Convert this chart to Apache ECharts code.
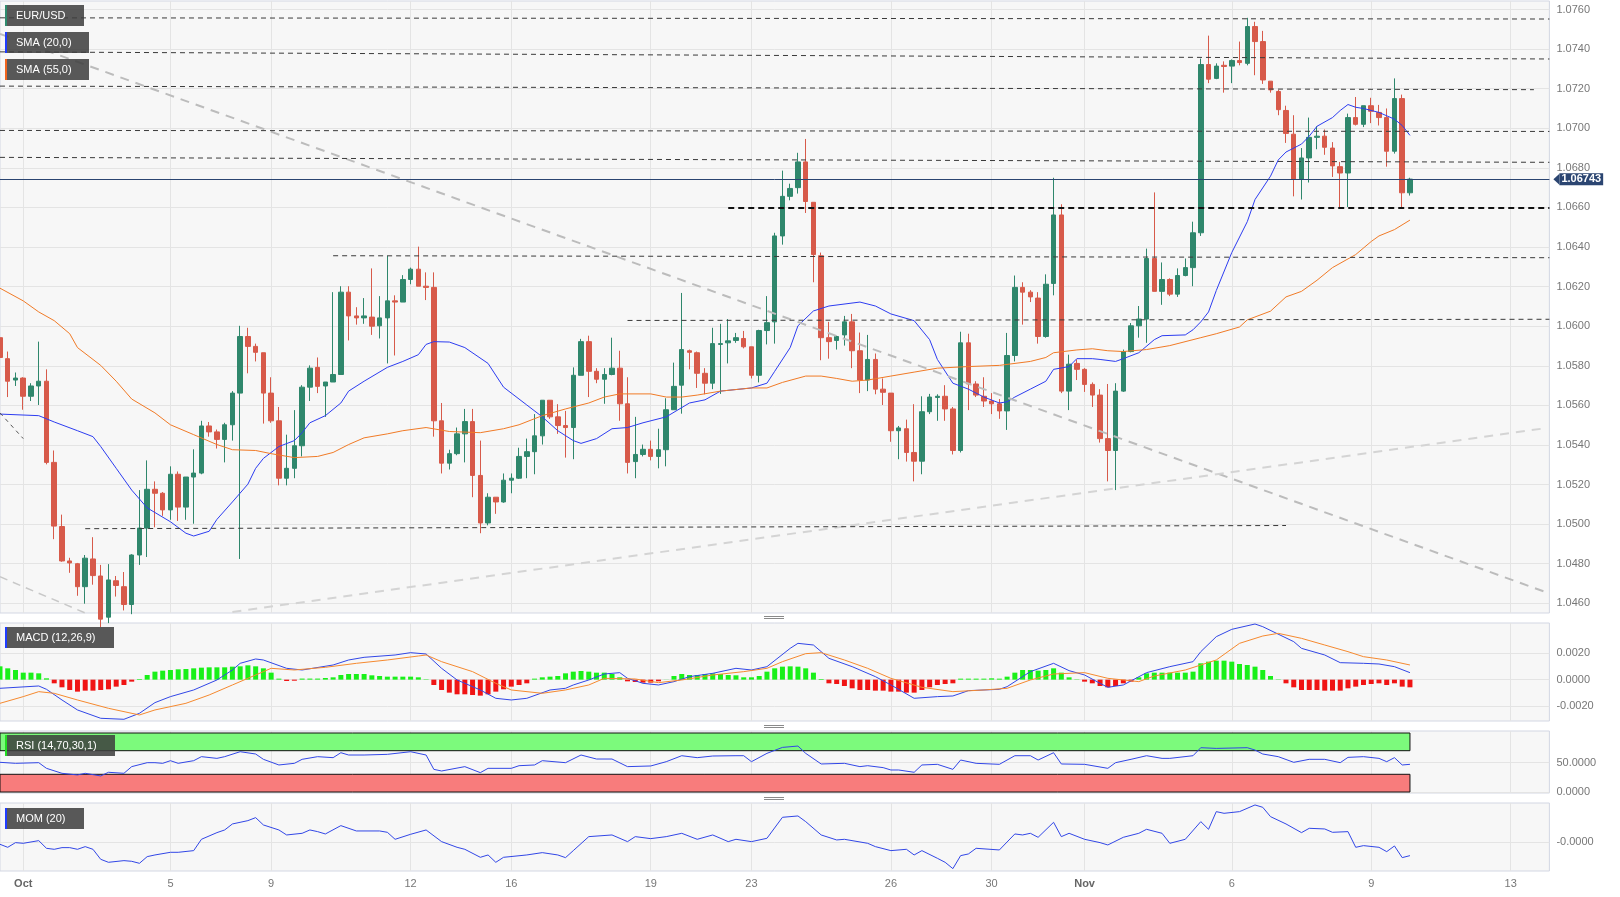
<!DOCTYPE html>
<html><head><meta charset="utf-8">
<script src="https://cdn.jsdelivr.net/npm/echarts@6.0.0/dist/echarts.min.js"></script>
<style>html,body{margin:0;padding:0;background:#fff}#c{width:1620px;height:897px}</style>
</head><body><div id="c"></div>
<script>
// ---------- categories (4h candles, weekends skipped) ----------
const H6 = [0, 4, 8, 12, 16, 20];
const sessionDays = [
  ['2023-09-29', [12, 16, 20]], ['2023-10-01', [20]],
  ['2023-10-02', H6], ['2023-10-03', H6], ['2023-10-04', H6], ['2023-10-05', H6], ['2023-10-06', H6], ['2023-10-08', [20]],
  ['2023-10-09', H6], ['2023-10-10', H6], ['2023-10-11', H6], ['2023-10-12', H6], ['2023-10-13', H6], ['2023-10-15', [20]],
  ['2023-10-16', H6], ['2023-10-17', H6], ['2023-10-18', H6], ['2023-10-19', H6], ['2023-10-20', H6], ['2023-10-22', [20]],
  ['2023-10-23', H6], ['2023-10-24', H6], ['2023-10-25', H6], ['2023-10-26', H6], ['2023-10-27', H6], ['2023-10-29', [20]],
  ['2023-10-30', H6], ['2023-10-31', H6], ['2023-11-01', H6], ['2023-11-02', H6], ['2023-11-03', H6], ['2023-11-05', [20]],
  ['2023-11-06', H6], ['2023-11-07', H6], ['2023-11-08', H6], ['2023-11-09', H6],
  ['2023-11-10', H6], ['2023-11-12', H6], ['2023-11-13', H6]
];
const categories = [];
sessionDays.forEach(([d, hs]) => hs.forEach(h => categories.push(d + ' ' + String(h).padStart(2, '0') + ':00')));
categories.length = 201;

const xTickLabels = [
  ['2023-10-01 20:00', 'Oct'], ['2023-10-05 00:00', '5'], ['2023-10-09 00:00', '9'], ['2023-10-12 00:00', '12'],
  ['2023-10-16 00:00', '16'], ['2023-10-19 00:00', '19'], ['2023-10-23 00:00', '23'], ['2023-10-26 00:00', '26'],
  ['2023-10-30 00:00', '30'], ['2023-11-01 00:00', 'Nov'], ['2023-11-06 00:00', '6'], ['2023-11-09 00:00', '9'],
  ['2023-11-13 00:00', '13']
];
const priceTicks = [1.046, 1.048, 1.050, 1.052, 1.054, 1.056, 1.058, 1.060, 1.062, 1.064, 1.066, 1.068, 1.070, 1.072, 1.074, 1.076];
const macdTicks = [-0.002, 0, 0.002];
const rsiTicks = [0, 50];
const momTicks = [-0.00001];

// ---------- OHLC [open, close, low, high] ----------
const ohlc = [
[1.05942,1.05842,1.05702,1.06112],[1.05836,1.05722,1.05642,1.05872],[1.05728,1.05738,1.05698,1.05766],[1.05738,1.05646,1.05578,1.05742],
[1.05646,1.05698,1.05622,1.05712],[1.05698,1.05722,1.05602,1.05922],[1.05722,1.05312,1.05302,1.05782],[1.05312,1.04990,1.04924,1.05372],
[1.04988,1.04814,1.04810,1.05048],[1.04814,1.04804,1.04754,1.04830],[1.04800,1.04684,1.04638,1.04804],[1.04684,1.04828,1.04598,1.04844],
[1.04824,1.04740,1.04694,1.04934],[1.04738,1.04520,1.04480,1.04794],[1.04530,1.04718,1.04500,1.04798],[1.04714,1.04690,1.04634,1.04738],
[1.04684,1.04594,1.04564,1.04758],[1.04594,1.04844,1.04545,1.04848],[1.04844,1.04980,1.04794,1.05172],[1.04980,1.05176,1.04834,1.05322],
[1.05176,1.05156,1.04984,1.05216],[1.05156,1.05072,1.05042,1.05162],[1.05072,1.05252,1.05022,1.05292],[1.05252,1.05086,1.05016,1.05266],
[1.05086,1.05238,1.05022,1.05238],[1.05238,1.05258,1.05002,1.05378],[1.05258,1.05496,1.05252,1.05522],[1.05496,1.05466,1.05442,1.05516],
[1.05466,1.05428,1.05382,1.05478],[1.05428,1.05502,1.05312,1.05512],[1.05502,1.05662,1.05422,1.05672],[1.05662,1.05948,1.04824,1.06002],
[1.05948,1.05898,1.05762,1.05992],[1.05898,1.05868,1.05822,1.05912],[1.05866,1.05662,1.05508,1.05866],[1.05662,1.05522,1.05512,1.05742],
[1.05522,1.05232,1.05196,1.05592],[1.05232,1.05282,1.05196,1.05452],[1.05282,1.05396,1.05232,1.05576],[1.05396,1.05692,1.05342,1.05702],
[1.05692,1.05788,1.05622,1.05802],[1.05792,1.05696,1.05662,1.05842],[1.05698,1.05718,1.05542,1.05718],[1.05718,1.05756,1.05718,1.06172],
[1.05756,1.06172,1.05756,1.06202],[1.06172,1.06052,1.05928,1.06202],[1.06052,1.06042,1.06008,1.06096],[1.06042,1.06052,1.06012,1.06142],
[1.06046,1.06000,1.05956,1.06292],[1.06002,1.06042,1.05938,1.06152],[1.06042,1.06128,1.05812,1.06356],[1.06128,1.06122,1.05852,1.06156],
[1.06122,1.06236,1.06122,1.06258],[1.06236,1.06288,1.06212,1.06296],[1.06288,1.06202,1.06202,1.06402],[1.06202,1.06196,1.06132,1.06272],
[1.06196,1.05522,1.05442,1.06272],[1.05522,1.05308,1.05256,1.05612],[1.05308,1.05356,1.05276,1.05376],[1.05356,1.05456,1.05348,1.05488],
[1.05456,1.05518,1.05312,1.05582],[1.05518,1.05246,1.05136,1.05582],[1.05246,1.05006,1.04954,1.05422],[1.05006,1.05136,1.04994,1.05156],
[1.05136,1.05112,1.05052,1.05136],[1.05112,1.05222,1.05108,1.05256],[1.05222,1.05232,1.05156,1.05256],[1.05232,1.05342,1.05228,1.05386],
[1.05342,1.05366,1.05232,1.05432],[1.05366,1.05446,1.05252,1.05556],[1.05446,1.05626,1.05402,1.05626],[1.05626,1.05542,1.05532,1.05626],
[1.05542,1.05498,1.05456,1.05606],[1.05498,1.05488,1.05336,1.05572],[1.05488,1.05752,1.05328,1.05792],[1.05752,1.05922,1.05752,1.05936],
[1.05922,1.05772,1.05642,1.05952],[1.05772,1.05732,1.05712,1.05788],[1.05732,1.05756,1.05608,1.05788],[1.05756,1.05788,1.05752,1.05942],
[1.05788,1.05608,1.05522,1.05876],[1.05608,1.05312,1.05256,1.05742],[1.05316,1.05352,1.05232,1.05542],[1.05352,1.05378,1.05342,1.05402],
[1.05378,1.05342,1.05322,1.05422],[1.05342,1.05376,1.05282,1.05482],[1.05376,1.05578,1.05292,1.05636],[1.05578,1.05696,1.05578,1.05816],
[1.05702,1.05882,1.05558,1.06168],[1.05876,1.05868,1.05782,1.05882],[1.05866,1.05762,1.05688,1.05872],[1.05762,1.05712,1.05656,1.05788],
[1.05712,1.05912,1.05682,1.05992],[1.05908,1.05912,1.05658,1.06012],[1.05916,1.05926,1.05812,1.06036],[1.05928,1.05942,1.05916,1.05966],
[1.05938,1.05896,1.05888,1.05976],[1.05896,1.05752,1.05736,1.05896],[1.05752,1.05978,1.05716,1.05982],[1.05978,1.06018,1.05908,1.06152],
[1.06022,1.06456,1.05912,1.06472],[1.06456,1.06656,1.06412,1.06786],[1.06656,1.06696,1.06636,1.06720],[1.06700,1.06830,1.06670,1.06876],
[1.06830,1.06630,1.06572,1.06946],[1.06626,1.06362,1.06222,1.06626],[1.06356,1.05942,1.05828,1.06372],[1.05942,1.05922,1.05836,1.06022],
[1.05928,1.05948,1.05882,1.05952],[1.05956,1.06022,1.05902,1.06052],[1.06022,1.05876,1.05788,1.06062],[1.05876,1.05728,1.05662,1.05968],
[1.05728,1.05832,1.05672,1.05956],[1.05832,1.05682,1.05656,1.05862],[1.05682,1.05666,1.05602,1.05736],[1.05662,1.05472,1.05416,1.05662],
[1.05472,1.05486,1.05328,1.05496],[1.05482,1.05362,1.05316,1.05528],[1.05362,1.05318,1.05216,1.05606],[1.05318,1.05568,1.05252,1.05646],
[1.05568,1.05642,1.05556,1.05658],[1.05640,1.05646,1.05522,1.05656],[1.05646,1.05582,1.05522,1.05702],[1.05582,1.05372,1.05352,1.05592],
[1.05372,1.05916,1.05362,1.05972],[1.05916,1.05708,1.05576,1.05962],[1.05708,1.05652,1.05642,1.05722],[1.05646,1.05622,1.05592,1.05742],
[1.05622,1.05608,1.05556,1.05662],[1.05608,1.05572,1.05532,1.05632],[1.05572,1.05852,1.05476,1.05966],[1.05852,1.06196,1.05822,1.06256],
[1.06196,1.06172,1.06008,1.06222],[1.06172,1.06148,1.06122,1.06182],[1.06142,1.05948,1.05912,1.06172],[1.05948,1.06212,1.05942,1.06262],
[1.06216,1.06562,1.06156,1.06750],[1.06562,1.05672,1.05662,1.06616],[1.05672,1.05808,1.05576,1.05856],[1.05812,1.05782,1.05728,1.05832],
[1.05782,1.05706,1.05668,1.05788],[1.05706,1.05652,1.05592,1.05716],[1.05652,1.05432,1.05412,1.05682],[1.05432,1.05372,1.05216,1.05708],
[1.05372,1.05672,1.05172,1.05712],[1.05672,1.05872,1.05668,1.05882],[1.05872,1.06002,1.05868,1.06016],[1.06002,1.06036,1.05942,1.06102],
[1.06036,1.06342,1.05916,1.06392],[1.06342,1.06176,1.06176,1.06676],[1.06176,1.06236,1.06108,1.06322],[1.06236,1.06162,1.06152,1.06242],
[1.06162,1.06256,1.06148,1.06292],[1.06256,1.06296,1.06252,1.06342],[1.06296,1.06472,1.06202,1.06528],[1.06472,1.07322,1.06456,1.07352],
[1.07322,1.07248,1.07228,1.07468],[1.07252,1.07314,1.07248,1.07328],[1.07318,1.07312,1.07180,1.07338],[1.07314,1.07342,1.07228,1.07348],
[1.07342,1.07332,1.07318,1.07438],[1.07328,1.07514,1.07318,1.07558],[1.07514,1.07438,1.07268,1.07538],[1.07438,1.07244,1.07224,1.07492],
[1.07238,1.07194,1.07180,1.07238],[1.07186,1.07094,1.07066,1.07194],[1.07090,1.06974,1.06926,1.07114],[1.06970,1.06744,1.06656,1.07066],
[1.06744,1.06850,1.06640,1.06900],[1.06850,1.06954,1.06726,1.07054],[1.06954,1.06960,1.06894,1.07010],[1.06960,1.06904,1.06866,1.06994],
[1.06900,1.06810,1.06754,1.06930],[1.06806,1.06774,1.06602,1.06830],[1.06774,1.07054,1.06602,1.07074],[1.07054,1.07020,1.07014,1.07158],
[1.07020,1.07114,1.07006,1.07114],[1.07114,1.07086,1.07026,1.07154],[1.07080,1.07054,1.07014,1.07118],[1.07054,1.06884,1.06806,1.07100],
[1.06884,1.07150,1.06872,1.07252],[1.07150,1.06674,1.06602,1.07170],[1.06674,1.06743,1.06660,1.06750]
];
const lastPrice = 1.06743;

// ---------- moving averages [index, value] ----------
const sma20 = [[0,1.05556],[5,1.05548],[7,1.05516],[10,1.05472],[12,1.05442],[13,1.05392],[15,1.05282],[17,1.05172],[19,1.05082],[22,1.05012],[24,1.04954],[25,1.04940],[27,1.04964],[28,1.05024],[30,1.05112],[32,1.05202],[33,1.05282],[34,1.05332],[36,1.05392],[38,1.05422],[39,1.05462],[40,1.05512],[42,1.05548],[44,1.05612],[45,1.05672],[47,1.05722],[50,1.05792],[52,1.05822],[54,1.05856],[55,1.05908],[56,1.05922],[58,1.05920],[60,1.05892],[63,1.05812],[65,1.05692],[68,1.05602],[70,1.05542],[72,1.05472],[74,1.05422],[75,1.05408],[77,1.05432],[79,1.05482],[81,1.05488],[83,1.05512],[86,1.05542],[89,1.05612],[91,1.05628],[93,1.05672],[97,1.05688],[99,1.05712],[100,1.05772],[102,1.05892],[103,1.06002],[105,1.06077],[107,1.06102],[111,1.06122],[113,1.06102],[115,1.06062],[118,1.06028],[120,1.05932],[121,1.05832],[123,1.05712],[125,1.05682],[127,1.05642],[129,1.05612],[130,1.05618],[131,1.05642],[133,1.05682],[135,1.05722],[136,1.05782],[138,1.05796],[139,1.05836],[141,1.05836],[142,1.05832],[144,1.05822],[145,1.05836],[147,1.05866],[149,1.05932],[150,1.05952],[153,1.05956],[154,1.05982],[155,1.06022],[156,1.06072],[157,1.06180],[159,1.06372],[161,1.06528],[162,1.06640],[164,1.06758],[165,1.06840],[166,1.06880],[168,1.06920],[169,1.06960],[170,1.07010],[172,1.07054],[173,1.07090],[174,1.07120],[175,1.07106],[176,1.07100],[178,1.07080],[180,1.07046],[181,1.07014],[182,1.06964]];
const sma55 = [[0,1.06192],[3,1.06128],[5,1.06072],[7,1.06028],[9,1.05962],[10,1.05892],[13,1.05802],[15,1.05722],[17,1.05632],[20,1.05562],[22,1.05502],[25,1.05452],[28,1.05402],[30,1.05376],[33,1.05372],[35,1.05356],[38,1.05336],[41,1.05342],[43,1.05362],[45,1.05402],[47,1.05436],[50,1.05456],[52,1.05472],[55,1.05488],[58,1.05468],[62,1.05462],[65,1.05482],[67,1.05502],[70,1.05548],[73,1.05582],[76,1.05612],[78,1.05642],[80,1.05658],[84,1.05658],[86,1.05642],[88,1.05642],[90,1.05652],[93,1.05672],[97,1.05688],[99,1.05688],[101,1.05716],[104,1.05748],[106,1.05748],[108,1.05736],[110,1.05722],[112,1.05728],[115,1.05748],[118,1.05768],[121,1.05788],[125,1.05796],[129,1.05802],[133,1.05822],[135,1.05842],[136,1.05866],[139,1.05880],[141,1.05886],[143,1.05876],[145,1.05872],[148,1.05882],[151,1.05902],[155,1.05942],[157,1.05962],[160,1.05996],[161,1.06032],[164,1.06076],[166,1.06148],[168,1.06176],[170,1.06232],[172,1.06296],[175,1.06362],[177,1.06428],[178,1.06456],[180,1.06488],[182,1.06536]];

// ---------- MACD ----------
const macdLine = [[0,-0.00065],[5,-0.000475],[6,-0.000725],[8,-0.001525],[10,-0.002275],[13,-0.0029],[16,-0.002975],[18,-0.002525],[20,-0.001725],[22,-0.001275],[25,-0.000775],[28,-0.000025],[30,0.000725],[31,0.001225],[33,0.00155],[34,0.001475],[37,0.00085],[39,0.000725],[43,0.0011],[45,0.001475],[47,0.001675],[51,0.00185],[53,0.002025],[55,0.001925],[57,0.00085],[59,-0.000025],[62,-0.000775],[64,-0.0014],[66,-0.001525],[68,-0.0014],[71,-0.000775],[73,-0.00065],[74,-0.0004],[76,-0.000025],[78,0.000425],[80,0.000525],[81,0.0001],[83,-0.000275],[85,-0.0004],[87,-0.00015],[89,0.000225],[92,0.000475],[95,0.00085],[97,0.000725],[99,0.000975],[102,0.00235],[103,0.002725],[105,0.0026],[107,0.0016],[110,0.000975],[113,0.000225],[115,-0.0004],[118,-0.0014],[121,-0.001275],[123,-0.001225],[125,-0.000825],[129,-0.000725],[130,-0.000525],[133,0.0006],[136,0.001225],[138,0.000675],[140,0.00035],[142,-0.000275],[143,-0.000575],[145,-0.0004],[148,0.000525],[151,0.000975],[154,0.00135],[155,0.0021],[157,0.003225],[159,0.003775],[162,0.004175],[163,0.003975],[167,0.00285],[168,0.00235],[171,0.00185],[173,0.001275],[176,0.001225],[178,0.001175],[180,0.000975],[182,0.000525]];
const macdSignal = [[0,-0.001775],[3,-0.001275],[5,-0.0009],[7,-0.001025],[10,-0.001525],[14,-0.00215],[18,-0.00265],[20,-0.002275],[24,-0.001775],[27,-0.00115],[30,-0.0004],[34,0.0006],[35,0.00085],[38,0.000725],[42,0.000925],[46,0.001225],[50,0.001475],[54,0.001775],[55,0.00185],[57,0.00135],[61,0.0006],[64,-0.000275],[66,-0.000775],[70,-0.001025],[73,-0.000775],[76,-0.0004],[78,0.0001],[82,0.00005],[85,-0.000225],[88,-0.000025],[92,0.00035],[96,0.0006],[99,0.00085],[101,0.00135],[104,0.00195],[106,0.002025],[109,0.001475],[112,0.00085],[115,0.0001],[119,-0.000575],[123,-0.0009],[127,-0.000775],[130,-0.00065],[133,-0.000025],[136,0.000425],[140,0.000525],[143,0.0001],[147,-0.00015],[149,0.000275],[153,0.000725],[157,0.001475],[160,0.002725],[163,0.003275],[165,0.003475],[168,0.0031],[171,0.0026],[174,0.0021],[176,0.001725],[179,0.001475],[182,0.0011]];
const macdHist = [0.001,0.00085,0.000725,0.000525,0.000525,0.000475,0.0001,-0.000275,-0.000575,-0.000775,-0.0009,-0.000825,-0.000825,-0.000775,-0.000725,-0.000525,-0.0004,-0.00015,0.00005,0.00035,
0.0006,0.000675,0.000725,0.000775,0.0008,0.00085,0.0009,0.000925,0.000925,0.000925,0.000975,0.001,0.001075,0.001,0.00085,0.000525,0.000075,-0.0001,-0.00008,0.00008,
0.00008,0.00008,0.000125,0.000175,0.00035,0.000425,0.000425,0.000425,0.000325,0.000275,0.000225,0.000225,0.000225,0.000225,0.000175,0.00003,-0.0004,-0.000775,-0.000975,-0.0011,
-0.0011,-0.00115,-0.0012,-0.0011,-0.0009,-0.000725,-0.000525,-0.0004,-0.000275,0.000075,0.000175,0.000225,0.000275,0.000475,0.0006,0.00065,0.0006,0.000525,0.000525,0.000425,
0.000175,-0.000125,-0.000175,-0.000225,-0.000225,-0.000125,0.00001,0.000275,0.000425,0.00035,0.00035,0.000425,0.000475,0.000425,0.00035,0.000325,0.000175,0.000175,0.000275,0.0006,
0.00085,0.000975,0.001,0.000975,0.00085,0.000525,0.00005,-0.000275,-0.000325,-0.000475,-0.00065,-0.000775,-0.000775,-0.000825,-0.000825,-0.0009,-0.0009,-0.000975,-0.000975,-0.000775,
-0.000575,-0.0004,-0.000325,-0.000275,0.000075,0.000075,0.000075,0.000075,0.0001,0.000075,0.000225,0.000525,0.000725,0.000725,0.000675,0.000725,0.00085,0.000525,0.000175,0.000025,
-0.00015,-0.000275,-0.000475,-0.000575,-0.000475,-0.000275,-0.00015,0.000175,0.000475,0.000525,0.000525,0.000525,0.000525,0.000525,0.0006,0.001225,0.00135,0.001425,0.001425,0.00135,
0.001175,0.0011,0.000975,0.000725,0.000275,0.000025,-0.000275,-0.000575,-0.000775,-0.000775,-0.000775,-0.000825,-0.000825,-0.000825,-0.00065,-0.000525,-0.0004,-0.000325,-0.000275,-0.0004,
-0.000275,-0.000525,-0.000575];

// ---------- RSI ----------
const rsi = [[0,50.3],[2,48.6],[5,49.7],[6,40.1],[8,31.7],[10,28.9],[11,31.7],[13,27.2],[14,33.4],[16,31.7],[17,43],[19,49.7],[20,49.7],[21,48.6],[22,53.1],[23,48.6],[25,53.1],[26,59.9],[28,57],[29,59.9],[31,68.3],[33,64.4],[34,55.4],[36,45.8],[38,48.6],[39,55.4],[41,59.9],[43,58.2],[44,66.6],[45,62.7],[47,62.7],[50,63.8],[53,68.3],[55,62.7],[56,38.4],[57,35.6],[60,43],[62,32.8],[63,40.1],[66,40.1],[67,44.6],[69,45.8],[70,53.1],[73,49.7],[75,62.7],[77,55.9],[79,55.9],[81,43],[84,44.1],[86,51.4],[88,61.5],[90,58.2],[92,61],[95,61.5],[96,61.5],[97,51.4],[99,65.5],[101,75.6],[103,77.9],[104,65.5],[106,47.5],[109,48.6],[111,43],[112,44.6],[114,41.3],[115,37.3],[116,37.3],[118,33.4],[119,45.8],[121,46.9],[123,38.4],[124,54.2],[126,48.6],[129,46.9],[131,61.5],[133,61.5],[134,54.2],[136,66.6],[137,47.5],[140,46.9],[143,40.1],[144,49.7],[146,55.4],[148,61.5],[150,57],[151,57],[154,61.5],[155,75.1],[157,73.9],[161,75.1],[162,71.1],[163,64.4],[165,59.9],[167,50.3],[169,55.4],[171,55.4],[173,49.7],[174,58.7],[176,59.9],[178,57],[179,51.4],[180,58.2],[181,45.8],[182,46.9]];
const rsiUpper = 70, rsiLower = 30;

// ---------- Momentum ----------
const mom = [[0,-0.0006],[1,-0.0015],[2,-0.0001],[3,-0.0003],[5,0.0005],[6,-0.0018],[7,-0.0021],[8,-0.0016],[9,-0.0016],[10,-0.0021],[11,-0.0013],[12,-0.0021],[13,-0.0051],[14,-0.0060],[16,-0.0055],[17,-0.0057],[18,-0.0063],[19,-0.0043],[20,-0.0038],[22,-0.0030],[23,-0.0030],[25,-0.0025],[26,0.0009],[28,0.0029],[29,0.0037],[30,0.0055],[32,0.0065],[33,0.0074],[34,0.0052],[36,0.0037],[37,0.0022],[39,0.0027],[40,0.0037],[41,0.0032],[42,0.0025],[44,0.0050],[46,0.0034],[49,0.0034],[50,0.0030],[51,0.0009],[53,0.0024],[55,0.0037],[57,0.0002],[59,-0.0015],[60,-0.0021],[62,-0.0045],[63,-0.0038],[64,-0.0060],[65,-0.0045],[68,-0.0038],[70,-0.0031],[72,-0.0038],[73,-0.0046],[74,-0.0025],[76,0.0017],[79,0.0022],[81,0.0002],[82,0.0017],[84,0.0011],[86,0.0017],[88,0.0027],[90,0.0009],[92,0.0022],[94,0.0002],[95,0.0009],[97,0.0002],[99,0.0012],[101,0.0075],[103,0.0079],[104,0.0062],[106,0.0022],[108,0.0007],[109,0.0009],[112,-0.0003],[113,-0.0013],[115,-0.0025],[117,-0.0021],[118,-0.0038],[119,-0.0025],[121,-0.0048],[122,-0.0060],[123,-0.0079],[124,-0.0040],[125,-0.0035],[126,-0.0018],[129,-0.0023],[131,0.0025],[132,0.0022],[133,0.0027],[134,0.0015],[136,0.0060],[137,0.0017],[138,0.0027],[140,0.0009],[142,-0.0001],[143,-0.0008],[145,0.0015],[147,0.0027],[148,0.0039],[150,0.0027],[151,-0.0003],[153,0.0009],[155,0.0062],[156,0.0039],[157,0.0092],[158,0.0087],[160,0.0092],[162,0.0112],[163,0.0105],[164,0.0077],[166,0.0055],[168,0.0029],[169,0.0042],[171,0.0040],[172,0.0030],[174,0.0032],[175,-0.0015],[176,-0.0010],[178,-0.0015],[179,-0.0028],[180,-0.0011],[181,-0.0046],[182,-0.0040]];

// ---------- drawn levels [x0, y0, x1, y1] ----------
const levelLines = [
  [0, 1.07558, 200, 1.07552], [0, 1.07386, 200, 1.07350], [0, 1.07213, 198, 1.07195],
  [0, 1.06989, 200, 1.06984], [0, 1.06853, 200, 1.06828], [43, 1.06356, 200, 1.06346],
  [81, 1.06029, 200, 1.06035], [11, 1.04977, 166, 1.04993]
];
const keyLevel = [94, 1.0660, 200, 1.0660];
const trendLines = [[0, 1.07477, 200, 1.04650], [30, 1.04556, 199, 1.05482], [0, 1.04734, 11, 1.04551]];
const shortTrend = [0, 1.05562, 3, 1.05432];

// ---------- styling ----------
const GREEN = '#2f876c', RED = '#d75a4a', BLUE = '#2c3cf0', ORANGE = '#f07a26', NAVY = '#2b4571';
const FONT = "'Liberation Sans', Arial, sans-serif";
const GRIDLINE = '#e4e4e4', FRAME = '#d3d7e3', PANEL = '#f7f7f7';
const tickMap = {};
xTickLabels.forEach(([c, l]) => tickMap[c] = l);

const grids = [
  { left: 0, width: 1549.4, top: 1, height: 612 },
  { left: 0, width: 1549.4, top: 623, height: 98 },
  { left: 0, width: 1549.4, top: 731, height: 62 },
  { left: 0, width: 1549.4, top: 803, height: 68 }
].map(g => Object.assign(g, { show: true, backgroundColor: PANEL, borderColor: FRAME, borderWidth: 1, containLabel: false, outerBoundsMode: 'none' }));

function xAxis(gi, labels) {
  return {
    type: 'category', gridIndex: gi, data: categories, boundaryGap: false,
    axisLine: { show: false }, axisTick: { show: false },
    axisLabel: labels ? {
      show: true, interval: (i, v) => tickMap[v] !== undefined, margin: 7,
      color: '#777', fontSize: 11, fontFamily: FONT,
      formatter: v => { const l = tickMap[v] || ''; return (l === 'Oct' || l === 'Nov') ? '{m|' + l + '}' : l; },
      rich: { m: { fontWeight: 'bold', color: '#666', fontSize: 11, fontFamily: FONT } }
    } : { show: false },
    splitLine: { show: true, interval: (i, v) => tickMap[v] !== undefined, lineStyle: { color: GRIDLINE, width: 1 } },
    axisPointer: { show: false }
  };
}
function yAxis(gi, min, max, ticks, fmt) {
  return {
    type: 'value', gridIndex: gi, position: 'right', min, max, scale: true,
    axisLine: { show: false }, axisTick: { show: false, customValues: ticks },
    axisLabel: { customValues: ticks, formatter: fmt, color: '#777', fontSize: 11, fontFamily: FONT, margin: 7 },
    splitLine: { show: true, lineStyle: { color: GRIDLINE, width: 1 } }
  };
}
const seg = (a, style, label) => [{ coord: [a[0], a[1]], lineStyle: style, label: label || { show: false } }, { coord: [a[2], a[3]] }];

const markLines = []
  .concat(trendLines.slice(0, 1).map(t => seg(t, { color: '#bcbcbc', width: 2, type: [9, 7] })))
  .concat(trendLines.slice(1, 2).map(t => seg(t, { color: '#d4d4d4', width: 2, type: [9, 7] })))
  .concat(trendLines.slice(2).map(t => seg(t, { color: '#c8c8c8', width: 1.5, type: [8, 6] })))
  .concat([seg(shortTrend, { color: '#555', width: 1, type: [4, 4] })])
  .concat(levelLines.map(l => seg(l, { color: '#3a3a3a', width: 1, type: [5, 4] })))
  .concat([seg(keyLevel, { color: '#111', width: 2, type: [6, 4] })])
  .concat([seg([0, lastPrice, 200, lastPrice], { color: NAVY, width: 1, type: 'solid' }, {
    show: true, position: 'end', distance: 10, formatter: lastPrice.toFixed(5), color: '#fff',
    backgroundColor: NAVY, fontWeight: 'bold', fontSize: 11, fontFamily: FONT,
    padding: [1, 2, 0, 2], lineHeight: 11
  })]);

function legendBox(x, y, w, h, bar, text) {
  return {
    type: 'group', z: 100, children: [
      { type: 'rect', z: 100, shape: { x, y, width: w, height: h }, style: { fill: 'rgba(62,62,62,0.86)' } },
      { type: 'rect', z: 101, shape: { x, y, width: 2, height: h }, style: { fill: bar } },
      { type: 'text', z: 102, x: x + 11, y: y + h / 2, style: { text, fill: '#fff', fontSize: 11, fontFamily: FONT, verticalAlign: 'middle' } }
    ]
  };
}
function handle(y) {
  return {
    type: 'group', children: [
      { type: 'rect', shape: { x: 764, y, width: 20, height: 1 }, style: { fill: '#8a8a8a' } },
      { type: 'rect', shape: { x: 764, y: y + 2, width: 20, height: 1 }, style: { fill: '#8a8a8a' } }
    ]
  };
}

const option = {
  animation: false,
  backgroundColor: '#ffffff',
  grid: grids,
  xAxis: [xAxis(0, false), xAxis(1, false), xAxis(2, false), xAxis(3, true)],
  yAxis: [
    yAxis(0, 1.04551, 1.07643, priceTicks, v => v.toFixed(4)),
    yAxis(1, -0.003103, 0.004251, macdTicks, v => v.toFixed(4)),
    yAxis(2, -1.69, 103.39, rsiTicks, v => v.toFixed(4)),
    yAxis(3, -0.00861, 0.01179, momTicks, v => v.toFixed(4))
  ],
  series: [
    {
      type: 'line', name: 'levels', xAxisIndex: 0, yAxisIndex: 0, data: [], z: 1, silent: true,
      markLine: { silent: true, symbol: ['none', 'none'], label: { show: false }, animation: false, data: markLines },
      markPoint: {
        silent: true, animation: false,
        data: [{ coord: [200, lastPrice], symbol: 'path://M0,5 L6,0 L6,10 Z', symbolSize: [6, 11], symbolOffset: [7, 0], itemStyle: { color: NAVY }, label: { show: false } }]
      }
    },
    {
      type: 'candlestick', name: 'EUR/USD', xAxisIndex: 0, yAxisIndex: 0, data: ohlc, barWidth: 5, z: 3,
      itemStyle: { color: GREEN, color0: RED, borderColor: GREEN, borderColor0: RED, borderColorDoji: GREEN, borderWidth: 1 }
    },
    { type: 'line', name: 'SMA (20,0)', xAxisIndex: 0, yAxisIndex: 0, data: sma20, showSymbol: false, z: 4, lineStyle: { color: BLUE, width: 1 } },
    { type: 'line', name: 'SMA (55,0)', xAxisIndex: 0, yAxisIndex: 0, data: sma55, showSymbol: false, z: 4, lineStyle: { color: ORANGE, width: 1 } },
    {
      type: 'bar', name: 'hist', xAxisIndex: 1, yAxisIndex: 1, data: macdHist, barWidth: 5,
      itemStyle: { color: p => p.value >= 0 ? '#19f019' : '#f01414' }
    },
    { type: 'line', name: 'MACD', xAxisIndex: 1, yAxisIndex: 1, data: macdLine, showSymbol: false, z: 4, lineStyle: { color: '#3146e6', width: 1 } },
    { type: 'line', name: 'Signal', xAxisIndex: 1, yAxisIndex: 1, data: macdSignal, showSymbol: false, z: 4, lineStyle: { color: '#f5892f', width: 1 } },
    {
      type: 'line', name: 'rsiBands', xAxisIndex: 2, yAxisIndex: 2, data: [], z: 1, silent: true,
      markArea: {
        silent: true, animation: false,
        data: [
          [{ coord: [0, rsiUpper], itemStyle: { color: '#7cfa7c', borderColor: '#111', borderWidth: 1 } }, { coord: [182, 100] }],
          [{ coord: [0, 0], itemStyle: { color: '#f87c7c', borderColor: '#111', borderWidth: 1 } }, { coord: [182, rsiLower] }]
        ]
      }
    },
    { type: 'line', name: 'RSI', xAxisIndex: 2, yAxisIndex: 2, data: rsi, showSymbol: false, z: 4, lineStyle: { color: '#3146e6', width: 1 } },
    { type: 'line', name: 'MOM', xAxisIndex: 3, yAxisIndex: 3, data: mom, showSymbol: false, z: 4, lineStyle: { color: '#3146e6', width: 1 } }
  ],
  graphic: {
    elements: [
      legendBox(5, 5, 79, 21, '#2e8b6e', 'EUR/USD'),
      legendBox(5, 32, 84, 21, '#1f3cff', 'SMA (20,0)'),
      legendBox(5, 59, 84, 21, '#f0641e', 'SMA (55,0)'),
      legendBox(5, 627, 109, 21, '#1f3cff', 'MACD (12,26,9)'),
      legendBox(5, 735, 110, 21, '#22dd22', 'RSI (14,70,30,1)'),
      legendBox(5, 808, 79, 21, '#1f3cff', 'MOM (20)'),
      handle(616), handle(725), handle(797)
    ]
  }
};
const chart = echarts.init(document.getElementById('c'), null, { renderer: 'canvas', width: 1620, height: 897 });
chart.setOption(option);
</script>
</body></html>
